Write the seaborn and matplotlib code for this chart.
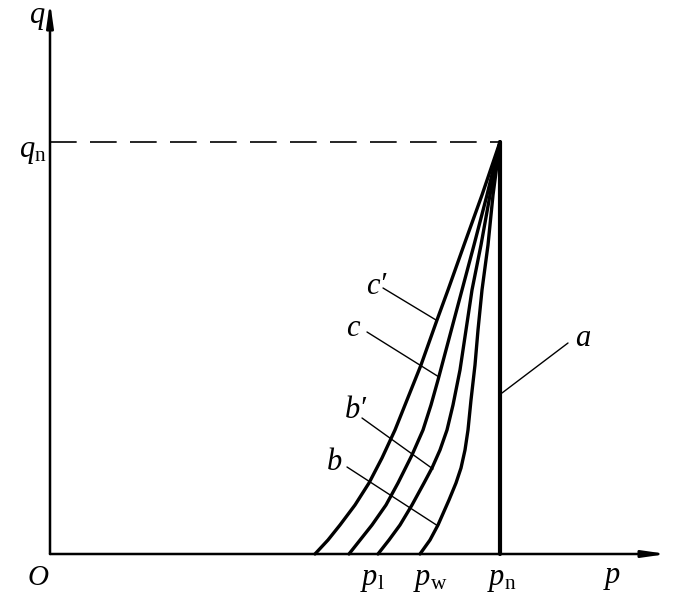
import numpy as np
import pandas as pd
import matplotlib
matplotlib.use("Agg")
import matplotlib.pyplot as plt
import seaborn as sns

# characteristic curves (p, q), all meeting at (p_n, q_n)
p_n = 450
q_n = 412

cp_p = [450, 432, 414, 398, 387, 371, 357, 345, 332, 319, 305, 290, 278, 265]
cp_q = [412, 359, 309, 264, 234, 189, 154, 124, 96, 71, 49, 29, 14, 0]

c_p = [450, 437, 424, 412, 400, 388, 381, 373, 362, 348, 336, 322, 299]
c_q = [412, 359, 309, 264, 219, 174, 149, 124, 99, 71, 49, 29, 0]

bp_p = [450, 440, 431, 422, 416, 410, 403, 397, 390, 382, 374, 362, 350, 339, 328]
bp_q = [412, 359, 309, 264, 224, 184, 149, 124, 104, 86, 71, 49, 29, 14, 0]

b_p = [450, 443, 438, 432, 428, 425, 421, 418, 415, 411, 406, 399, 388, 380, 370]
b_q = [412, 359, 309, 264, 224, 189, 154, 124, 104, 86, 71, 54, 29, 14, 0]

curve_names = ["c'", "c", "b'", "b"]

# label text, label position, leader start, leader end
labels = ["c\u2032", "c", "b\u2032", "b", "a"]
label_xy = [(326, 268), (303, 225), (306, 143), (284, 92), (533, 215)]
leader_from = [(333, 266), (317, 222), (312, 136), (297, 87), (518, 211)]
leader_to = [(386, 234), (389, 177), (383, 85), (388, 28), (452, 161)]

tick_labels = ["$p_{\\mathrm{l}}$", "$p_{\\mathrm{w}}$", "$p_{\\mathrm{n}}$"]
tick_pos = [322, 380, 452]

sns.set_style("white")
plt.rcParams["mathtext.fontset"] = "custom"
plt.rcParams["mathtext.rm"] = "Liberation Serif"
plt.rcParams["mathtext.it"] = "Liberation Serif:italic"
plt.rcParams["font.family"] = ["Liberation Serif", "DejaVu Serif"]
plt.rcParams["text.color"] = "black"

rows = []
for name, ps, qs in zip(curve_names, [cp_p, c_p, bp_p, b_p], [cp_q, c_q, bp_q, b_q]):
    for p, q in zip(ps, qs):
        rows.append({"curve": name, "p": p, "q": q})
df = pd.DataFrame(rows)

fig = plt.figure(figsize=(6.84, 6.16), dpi=100)
ax = fig.add_axes([0, 0, 1, 1])
ax.set_xlim(-50, 634)
ax.set_ylim(-62, 554)
ax.set_axis_off()

sns.lineplot(data=df, x="p", y="q", units="curve", estimator=None, sort=False,
             color="black", lw=2.4, ax=ax)
for ln in ax.lines:
    ln.set_solid_joinstyle("round")

# vertical line a
ax.plot([p_n, p_n], [0, q_n], color="black", lw=3)
# dashed q_n line
ax.plot([0, p_n], [q_n, q_n], color="black", lw=1.2, dashes=(16, 8))

# axes with arrows
ax.annotate("", xy=(617, 0), xytext=(0, 0),
            arrowprops=dict(arrowstyle="-|>,head_length=1.4,head_width=0.2",
                            color="black", lw=1.8, shrinkA=0, shrinkB=0))
ax.annotate("", xy=(0, 552), xytext=(0, 0),
            arrowprops=dict(arrowstyle="-|>,head_length=1.4,head_width=0.2",
                            color="black", lw=1.8, shrinkA=0, shrinkB=0))

# leaders and curve labels
for txt, xy, a, b in zip(labels, label_xy, leader_from, leader_to):
    ax.plot([a[0], b[0]], [a[1], b[1]], color="black", lw=1)
    ax.text(xy[0], xy[1], txt, fontsize=22, fontstyle="italic",
            ha="center", va="center")

for txt, x in zip(tick_labels, tick_pos):
    ax.text(x, -26, txt, fontsize=22, ha="center", va="center")

ax.text(562, -24, "$p$", fontsize=22, ha="center", va="center")
ax.text(-12, -24, "$O$", fontsize=21, ha="center", va="center")
ax.text(-13, 536, "$q$", fontsize=22, ha="center", va="center")
ax.text(-17, 402, "$q_{\\mathrm{n}}$", fontsize=22, ha="center", va="center")

fig.savefig("out.png", dpi=100)
